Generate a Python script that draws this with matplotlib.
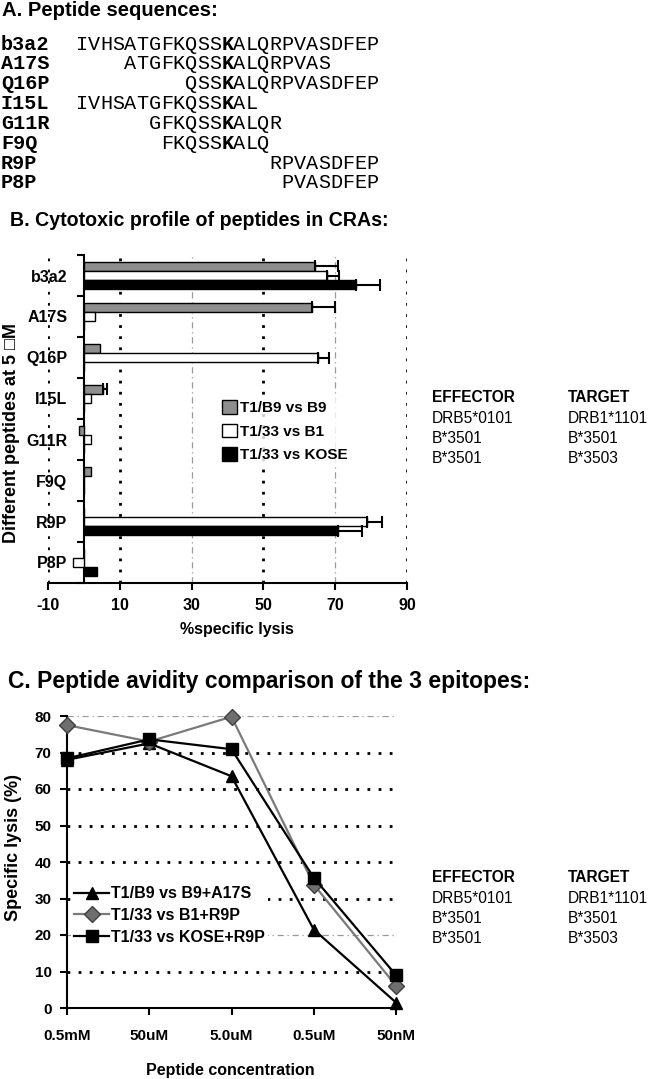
import numpy as np
import matplotlib
matplotlib.use("Agg")
import matplotlib.pyplot as plt
from matplotlib.patches import Patch

plt.rcParams['font.family'] = ['Liberation Sans', 'DejaVu Sans']

W, H = 649, 1079

# A. secuencias de peptidos
full_seq = "IVHSATGFKQSSKALQRPVASDFEP"
pep_names = ["b3a2", "A17S", "Q16P", "I15L", "G11R", "F9Q", "R9P", "P8P"]
pep_seqs = ["IVHSATGFKQSSKALQRPVASDFEP", "ATGFKQSSKALQRPVAS", "QSSKALQRPVASDFEP",
            "IVHSATGFKQSSKAL", "GFKQSSKALQR", "FKQSSKALQ", "RPVASDFEP", "PVASDFEP"]
key_pos = 12  # la K en negrita

# B. perfil citotoxico (% lisis especifica)
bar_labels = ["T1/B9 vs B9", "T1/33 vs B1", "T1/33 vs KOSE"]
lysis_b9 = [64.3, 63.4, 4.5, 5.4, -1.4, 2.0, 0, 0]
err_b9 = [6.4, 6.5, 0, 0.9, 0, 0, 0, 0]
lysis_b1 = [67.6, 3.1, 65.2, 2.0, 2.0, 0, 78.9, -2.9]
err_b1 = [3.4, 0, 3.2, 0, 0, 0, 4.1, 0]
lysis_kose = [75.7, 0, 0, 0, 0, 0, 70.8, 3.7]
err_kose = [6.9, 0, 0, 0, 0, 0, 6.6, 0]

# C. avidez
conc = ["0.5mM", "50uM", "5.0uM", "0.5uM", "50nM"]
line_labels = ["T1/B9 vs B9+A17S", "T1/33 vs B1+R9P", "T1/33 vs KOSE+R9P"]
lys_a17s = [68, 72.5, 63.5, 21.5, 1.5]
lys_b1_r9p = [77.5, 73, 79.8, 33.8, 6.1]
lys_kose_r9p = [68.4, 73.6, 70.9, 35.7, 9.0]

hla_rows = [("DRB5*0101", "DRB1*1101"), ("B*3501", "B*3501"), ("B*3501", "B*3503")]


def fx(x):
    return x / W


def fy(y):
    return 1 - y / H


fig = plt.figure(figsize=(W / 100, H / 100), dpi=100)

# ---------- A ----------
fig.text(fx(2), fy(16), "A. Peptide sequences:", fontsize=14.6, fontweight="bold", va="baseline")
cw = 12.1
for r, (name, seq) in enumerate(zip(pep_names, pep_seqs)):
    yb = fy(49.5 + r * 19.85)
    fig.text(fx(1), yb, name, family="Liberation Mono", fontsize=14.5, fontweight="bold", va="baseline")
    off = full_seq.find(seq)
    for j, ch in enumerate(seq):
        p = off + j
        fig.text(fx(76 + p * cw), yb, ch, family="Liberation Mono", fontsize=14.5,
                 fontweight="bold" if p == key_pos else "normal", va="baseline")

# ---------- B ----------
fig.text(fx(10), fy(226), "B. Cytotoxic profile of peptides in CRAs:", fontsize=14.1,
         fontweight="bold", va="baseline")

axb = fig.add_axes([fx(48), fy(583), (407 - 48) / W, (583 - 255) / H])
y = np.arange(len(pep_names))
h = 0.22
series = [(lysis_b9, err_b9, "#8e8e8e"), (lysis_b1, err_b1, "white"), (lysis_kose, err_kose, "black")]
for k, (vals, errs, col) in enumerate(series):
    yy = y + (k - 1) * h
    axb.barh(yy, vals, height=h, color=col, edgecolor="black", linewidth=1.0, zorder=3)
    vals = np.array(vals)
    errs = np.array(errs)
    m = errs > 0
    axb.errorbar(vals[m], yy[m], xerr=[np.zeros(m.sum()), errs[m]], fmt="none",
                 ecolor="black", elinewidth=1.5, capsize=4.5, capthick=1.5, zorder=4)

axb.set_xlim(-10, 90)
axb.set_ylim(len(pep_names) - 0.5, -0.5)
for s in ["top", "right"]:
    axb.spines[s].set_visible(False)
axb.spines["left"].set_position(("data", 0))
axb.spines["left"].set_linewidth(1.5)
axb.spines["bottom"].set_linewidth(1.5)
axb.set_yticks(y)
axb.set_yticklabels(pep_names, fontsize=11.5, fontweight="bold")
axb.set_yticks(np.arange(len(pep_names) + 1) - 0.5, minor=True)
axb.tick_params(axis="y", which="major", length=0, pad=12)
axb.tick_params(axis="y", which="minor", length=5, width=1.5, direction="out")
xt = [-10, 10, 30, 50, 70, 90]
axb.set_xticks(xt)
axb.set_xticklabels([str(v) for v in xt], fontsize=11.5, fontweight="bold")
axb.tick_params(axis="x", length=5, width=1.5, direction="out", pad=6)
for v in xt:
    if v in (30, 70):
        axb.axvline(v, color="#9a9a9a", lw=0.9, ls=(0, (5, 3, 1, 3)), zorder=1)
    else:
        axb.axvline(v, color="black", lw=2.0, ls=(0, (1, 3)), zorder=1)
axb.set_xlabel("%specific lysis", fontsize=11.5, fontweight="bold")
axb.xaxis.set_label_coords((237 - 48) / 359, -0.12)
axb.set_ylabel("Different peptides at 5 \u25a1M", fontsize=13, fontweight="bold")
axb.yaxis.set_label_coords(-0.078, 0.457)

handles = [Patch(facecolor=c, edgecolor="black", linewidth=1.0) for _, _, c in series]
legb = fig.legend(handles, bar_labels, loc="upper left", bbox_to_anchor=(fx(219), fy(397)),
                  bbox_transform=fig.transFigure, frameon=True,
                  prop={"weight": "bold", "size": 11}, handlelength=1.0, handleheight=1.0,
                  handletextpad=0.2, labelspacing=0.55, borderpad=0.2, borderaxespad=0)
legb.get_frame().set_facecolor("white")
legb.get_frame().set_edgecolor("none")


def hla_block(y0):
    fig.text(fx(432), fy(y0), "EFFECTOR", fontsize=11.2, fontweight="bold", va="baseline")
    fig.text(fx(568), fy(y0), "TARGET", fontsize=11.2, fontweight="bold", va="baseline")
    for i, (e, t) in enumerate(hla_rows):
        fig.text(fx(432), fy(y0 + 20.3 * (i + 1)), e, fontsize=11.2, va="baseline")
        fig.text(fx(568), fy(y0 + 20.3 * (i + 1)), t, fontsize=11.2, va="baseline")


hla_block(402.5)

# ---------- C ----------
fig.text(fx(8), fy(688), "C. Peptide avidity comparison of the 3 epitopes:", fontsize=16.5,
         fontweight="bold", va="baseline")

axc = fig.add_axes([fx(67), fy(1008), (396 - 67) / W, (1008 - 716) / H])
xc = np.arange(len(conc))
for v in range(10, 90, 10):
    if v in (20, 80):
        axc.axhline(v, color="#9a9a9a", lw=0.9, ls=(0, (5, 3, 1, 3)), zorder=1)
    else:
        axc.axhline(v, color="black", lw=2.0, ls=(0, (1, 3)), zorder=1)
axc.plot(xc, lys_a17s, color="black", lw=1.6, marker="^", ms=8, mfc="black", mec="black",
         clip_on=False, zorder=3, label=line_labels[0])
axc.plot(xc, lys_b1_r9p, color="#7a7a7a", lw=1.6, marker="D", ms=8.5, mfc="#6e6e6e", mec="#404040",
         clip_on=False, zorder=3, label=line_labels[1])
axc.plot(xc, lys_kose_r9p, color="black", lw=1.6, marker="s", ms=8, mfc="black", mec="black",
         clip_on=False, zorder=4, label=line_labels[2])
axc.set_xlim(0, len(conc) - 1)
axc.set_ylim(0, 80)
for s in ["top", "right"]:
    axc.spines[s].set_visible(False)
axc.spines["left"].set_linewidth(1.5)
axc.spines["bottom"].set_linewidth(1.5)
axc.set_xticks(xc)
axc.set_xticklabels(conc, fontsize=11, fontweight="bold")
axc.set_yticks(range(0, 90, 10))
axc.set_yticklabels([str(v) for v in range(0, 90, 10)], fontsize=11, fontweight="bold")
axc.tick_params(axis="both", length=5, width=1.5, direction="out", pad=6)
axc.tick_params(axis="x", pad=10)
axc.set_xlabel("Peptide concentration", fontsize=11.5, fontweight="bold")
axc.xaxis.set_label_coords((230 - 67) / 329, -0.19)
axc.set_ylabel("Specific lysis (%)", fontsize=13, fontweight="bold")
axc.yaxis.set_label_coords(-0.137, 0.55)

legc = axc.legend(loc="upper left", bbox_to_anchor=(fx(71), fy(883)), bbox_transform=fig.transFigure,
                  prop={"weight": "bold", "size": 11.5}, handlelength=2.2, handletextpad=0.1,
                  labelspacing=0.42, borderpad=0.2, borderaxespad=0, frameon=True)
legc.get_frame().set_facecolor("white")
legc.get_frame().set_edgecolor("none")
legc.get_frame().set_alpha(1)

hla_block(882.3)

fig.savefig("out.png", dpi=100)
